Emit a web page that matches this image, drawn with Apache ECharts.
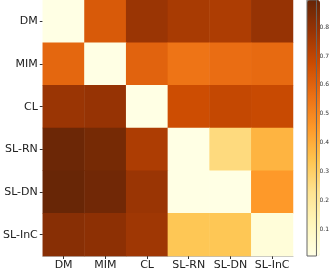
<!DOCTYPE html>
<html><head><meta charset="utf-8">
<script src="https://cdn.jsdelivr.net/npm/echarts@6/dist/echarts.min.js"></script>
<style>html,body{margin:0;padding:0;background:#fff}#c{width:332px;height:271px}</style>
</head><body><div id="c"></div>
<script>
var categories = ['DM', 'MIM', 'CL', 'SL-RN', 'SL-DN', 'SL-InC'];
var rowDM   = [0.01, 0.63, 0.78, 0.75, 0.74, 0.79];
var rowMIM  = [0.59, 0.01, 0.60, 0.55, 0.57, 0.58];
var rowCL   = [0.78, 0.79, 0.01, 0.67, 0.69, 0.68];
var rowSLRN = [0.88, 0.86, 0.74, 0.01, 0.26, 0.38];
var rowSLDN = [0.89, 0.87, 0.78, 0.01, 0.01, 0.45];
var rowSLInC= [0.82, 0.81, 0.77, 0.33, 0.33, 0.04];
var colorbarTicks = [0.1, 0.2, 0.3, 0.4, 0.5, 0.6, 0.7, 0.8];
var vmin = 0.007, vmax = 0.894;
var palette = ['#ffffe5','#fff7bc','#fee391','#fec44f','#fe9929','#ec7014','#cc4c02','#993404','#662506'];

var rows = [rowDM, rowMIM, rowCL, rowSLRN, rowSLDN, rowSLInC];
var data = [];
rows.forEach(function (r, i) { r.forEach(function (v, j) { data.push([j, i, v]); }); });

var font = 'DejaVu Sans';
var chart = echarts.init(document.getElementById('c'), null, {renderer: 'canvas'});
chart.setOption({
  animation: false,
  grid: [
    {left: 36, top: 0, width: 257, height: 257},
    {left: 307, top: 0, width: 13, height: 256, show: true, borderColor: '#666', borderWidth: 1, backgroundColor: 'transparent', z: 10}
  ],
  xAxis: [
    {type: 'category', data: categories, gridIndex: 0,
     axisLine: {show: true, lineStyle: {color: '#bbb', width: 1}},
     axisTick: {show: true, alignWithLabel: true, interval: 0, length: 3, lineStyle: {color: '#333'}},
     axisLabel: {fontFamily: font, fontSize: 11, color: '#222', margin: 4, interval: 0},
     splitLine: {show: false}},
    {type: 'value', gridIndex: 1, show: false, min: 0, max: 1}
  ],
  yAxis: [
    {type: 'category', data: categories, gridIndex: 0, inverse: true,
     axisLine: {show: true, lineStyle: {color: '#999', width: 1}},
     axisTick: {show: true, alignWithLabel: true, interval: 0, length: 3, lineStyle: {color: '#333'}},
     axisLabel: {fontFamily: font, fontSize: 11, color: '#222', margin: 5, interval: 0},
     splitLine: {show: false}},
    {type: 'value', gridIndex: 1, position: 'right', min: vmin, max: vmax,
     axisLine: {show: false},
     axisTick: {show: true, length: 2, customValues: colorbarTicks, lineStyle: {color: '#333'}},
     axisLabel: {fontFamily: font, fontSize: 6, color: '#333', margin: 3, customValues: colorbarTicks,
       formatter: function (v) { return v.toFixed(1); }},
     splitLine: {show: false}}
  ],
  visualMap: {
    type: 'continuous', seriesIndex: 0, min: vmin, max: vmax,
    calculable: false, orient: 'vertical', left: 307, top: 0,
    itemWidth: 13, itemHeight: 256, padding: 0, text: ['', ''], showLabel: false,
    inRange: {color: palette}
  },
  series: [{
    type: 'heatmap', xAxisIndex: 0, yAxisIndex: 0, data: data,
    itemStyle: {borderWidth: 0}, emphasis: {disabled: true}, label: {show: false}
  }]
});
</script></body></html>
